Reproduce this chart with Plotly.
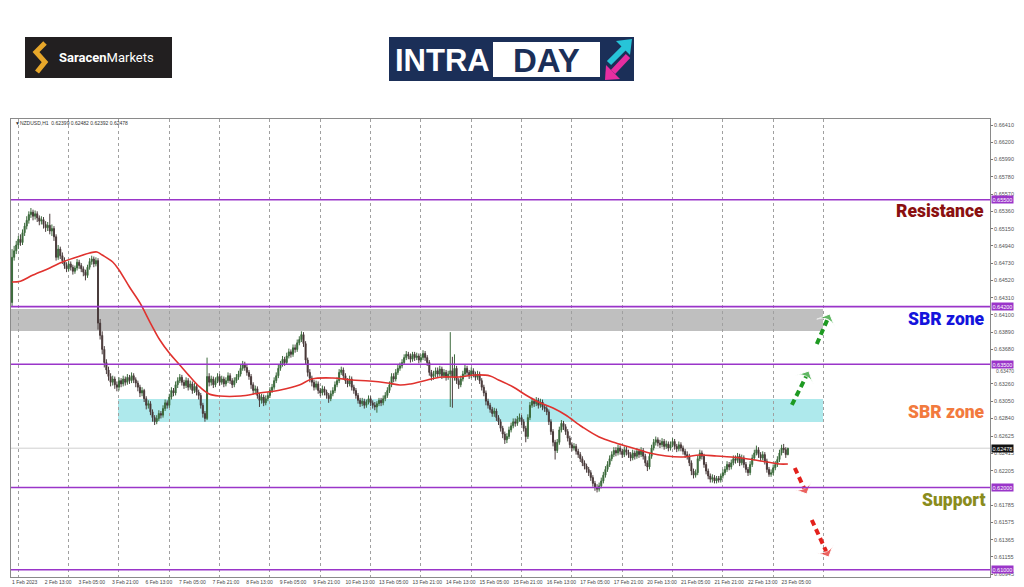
import plotly.graph_objects as go

# ---------------- data ----------------
first_open = 0.6425
closes = [
 0.6480, 0.6488, 0.6495, 0.6502, 0.6498, 0.6510, 0.6518, 0.6525, 0.6532, 0.6535,
 0.6530, 0.6533, 0.6528, 0.6524, 0.6526, 0.6520, 0.6516, 0.6519, 0.6512, 0.6515,
 0.6505, 0.6480, 0.6490, 0.6482, 0.6476, 0.6470, 0.6466, 0.6472, 0.6468, 0.6463,
 0.6467, 0.6474, 0.6470, 0.6466, 0.6462, 0.6458, 0.6468, 0.6475, 0.6478, 0.6472,
 0.6476, 0.6400, 0.6385, 0.6368, 0.6352, 0.6343, 0.6335, 0.6328, 0.6332, 0.6325,
 0.6322, 0.6330, 0.6326, 0.6332, 0.6328, 0.6334, 0.6330, 0.6336, 0.6331, 0.6327,
 0.6322, 0.6315, 0.6318, 0.6308, 0.6300, 0.6302, 0.6292, 0.6285, 0.6280, 0.6284,
 0.6290, 0.6288, 0.6296, 0.6303, 0.6300, 0.6310, 0.6318, 0.6315, 0.6325, 0.6330,
 0.6334, 0.6328, 0.6324, 0.6330, 0.6322, 0.6326, 0.6318, 0.6323, 0.6316, 0.6312,
 0.6300, 0.6290, 0.6284, 0.6335, 0.6328, 0.6332, 0.6325, 0.6330, 0.6335, 0.6328,
 0.6332, 0.6326, 0.6330, 0.6336, 0.6330, 0.6325, 0.6330, 0.6334, 0.6338, 0.6345,
 0.6350, 0.6346, 0.6340, 0.6335, 0.6325, 0.6318, 0.6320, 0.6312, 0.6306, 0.6310,
 0.6303, 0.6308, 0.6312, 0.6318, 0.6322, 0.6330, 0.6336, 0.6345, 0.6350, 0.6356,
 0.6352, 0.6360, 0.6365, 0.6362, 0.6370, 0.6368, 0.6376, 0.6380, 0.6386, 0.6375,
 0.6355, 0.6340, 0.6333, 0.6328, 0.6322, 0.6326, 0.6318, 0.6315, 0.6320, 0.6316,
 0.6312, 0.6308, 0.6314, 0.6318, 0.6325, 0.6330, 0.6340, 0.6343, 0.6336, 0.6330,
 0.6326, 0.6332, 0.6322, 0.6318, 0.6312, 0.6306, 0.6302, 0.6305, 0.6300, 0.6304,
 0.6308, 0.6303, 0.6300, 0.6298, 0.6302, 0.6306, 0.6303, 0.6308, 0.6312, 0.6318,
 0.6325, 0.6335, 0.6332, 0.6340, 0.6345, 0.6348, 0.6352, 0.6358, 0.6362, 0.6360,
 0.6356, 0.6362, 0.6358, 0.6360, 0.6355, 0.6358, 0.6363, 0.6358, 0.6352, 0.6340,
 0.6335, 0.6338, 0.6342, 0.6338, 0.6344, 0.6336, 0.6340, 0.6334, 0.6338, 0.6342,
 0.6335, 0.6345, 0.6330, 0.6325, 0.6332, 0.6338, 0.6345, 0.6340, 0.6336, 0.6342,
 0.6338, 0.6334, 0.6338, 0.6330, 0.6322, 0.6315, 0.6305, 0.6300, 0.6295, 0.6290,
 0.6293, 0.6285, 0.6280, 0.6272, 0.6265, 0.6258, 0.6262, 0.6270, 0.6275, 0.6280,
 0.6278, 0.6283, 0.6285, 0.6280, 0.6272, 0.6262, 0.6285, 0.6300, 0.6305, 0.6302,
 0.6306, 0.6300, 0.6304, 0.6298, 0.6296, 0.6292, 0.6280, 0.6268, 0.6255, 0.6245,
 0.6255, 0.6270, 0.6278, 0.6274, 0.6268, 0.6260, 0.6252, 0.6248, 0.6250, 0.6244,
 0.6240, 0.6235, 0.6230, 0.6226, 0.6222, 0.6218, 0.6212, 0.6205, 0.6200, 0.6198,
 0.6202, 0.6208, 0.6215, 0.6222, 0.6228, 0.6235, 0.6240, 0.6245, 0.6242, 0.6248,
 0.6244, 0.6240, 0.6246, 0.6243, 0.6240, 0.6236, 0.6242, 0.6238, 0.6244, 0.6240,
 0.6245, 0.6238, 0.6230, 0.6225, 0.6238, 0.6248, 0.6255, 0.6258, 0.6254, 0.6252,
 0.6256, 0.6250, 0.6253, 0.6248, 0.6252, 0.6256, 0.6250, 0.6247, 0.6252, 0.6248,
 0.6244, 0.6240, 0.6238, 0.6230, 0.6220, 0.6215, 0.6218, 0.6235, 0.6242, 0.6238,
 0.6228, 0.6220, 0.6214, 0.6210, 0.6212, 0.6208, 0.6211, 0.6209, 0.6214, 0.6218,
 0.6222, 0.6228, 0.6225, 0.6230, 0.6235, 0.6233, 0.6238, 0.6230, 0.6236, 0.6228,
 0.6222, 0.6218, 0.6228, 0.6236, 0.6242, 0.6246, 0.6240, 0.6236, 0.6240, 0.6232,
 0.6222, 0.6216, 0.6218, 0.6224, 0.6228, 0.6234, 0.6242, 0.6248, 0.6246, 0.6240,
 0.62478]

highs = [
 0.6490, 0.6494, 0.6500, 0.6506, 0.6508, 0.6514, 0.6522, 0.6530, 0.6536, 0.6540,
 0.6538, 0.6537, 0.6536, 0.6531, 0.6530, 0.6529, 0.6524, 0.6523, 0.6533, 0.6520,
 0.6518, 0.6508, 0.6495, 0.6493, 0.6486, 0.6480, 0.6474, 0.6476, 0.6475, 0.6471,
 0.6470, 0.6478, 0.6477, 0.6473, 0.6469, 0.6465, 0.6471, 0.6479, 0.6482, 0.6481,
 0.6480, 0.6479, 0.6405, 0.6390, 0.6372, 0.6356, 0.6347, 0.6339, 0.6336, 0.6335,
 0.6329, 0.6334, 0.6333, 0.6336, 0.6335, 0.6338, 0.6337, 0.6340, 0.6339, 0.6334,
 0.6330, 0.6325, 0.6322, 0.6320, 0.6311, 0.6306, 0.6305, 0.6295, 0.6288, 0.6288,
 0.6294, 0.6293, 0.6300, 0.6307, 0.6306, 0.6314, 0.6322, 0.6321, 0.6329, 0.6334,
 0.6338, 0.6337, 0.6331, 0.6334, 0.6333, 0.6330, 0.6329, 0.6327, 0.6326, 0.6319,
 0.6315, 0.6303, 0.6293, 0.6358, 0.6339, 0.6336, 0.6335, 0.6334, 0.6339, 0.6338,
 0.6336, 0.6335, 0.6334, 0.6340, 0.6339, 0.6333, 0.6334, 0.6338, 0.6342, 0.6349,
 0.6354, 0.6353, 0.6349, 0.6343, 0.6338, 0.6328, 0.6324, 0.6323, 0.6315, 0.6314,
 0.6313, 0.6312, 0.6316, 0.6322, 0.6326, 0.6334, 0.6340, 0.6349, 0.6354, 0.6360,
 0.6359, 0.6364, 0.6369, 0.6368, 0.6374, 0.6374, 0.6380, 0.6384, 0.6390, 0.6389,
 0.6378, 0.6358, 0.6344, 0.6336, 0.6331, 0.6330, 0.6329, 0.6321, 0.6324, 0.6323,
 0.6319, 0.6315, 0.6318, 0.6322, 0.6329, 0.6334, 0.6344, 0.6347, 0.6346, 0.6339,
 0.6333, 0.6336, 0.6335, 0.6325, 0.6321, 0.6315, 0.6309, 0.6309, 0.6308, 0.6307,
 0.6312, 0.6311, 0.6306, 0.6304, 0.6305, 0.6309, 0.6309, 0.6312, 0.6316, 0.6322,
 0.6329, 0.6339, 0.6339, 0.6344, 0.6349, 0.6352, 0.6356, 0.6362, 0.6366, 0.6365,
 0.6363, 0.6365, 0.6365, 0.6364, 0.6363, 0.6362, 0.6367, 0.6366, 0.6361, 0.6355,
 0.6343, 0.6342, 0.6346, 0.6346, 0.6348, 0.6347, 0.6344, 0.6343, 0.6342, 0.6389,
 0.6359, 0.6362, 0.6348, 0.6333, 0.6336, 0.6342, 0.6350, 0.6348, 0.6343, 0.6346,
 0.6345, 0.6341, 0.6342, 0.6341, 0.6333, 0.6325, 0.6318, 0.6308, 0.6303, 0.6298,
 0.6297, 0.6296, 0.6288, 0.6283, 0.6275, 0.6268, 0.6266, 0.6274, 0.6279, 0.6284,
 0.6284, 0.6287, 0.6290, 0.6288, 0.6283, 0.6275, 0.6289, 0.6304, 0.6309, 0.6308,
 0.6310, 0.6309, 0.6308, 0.6307, 0.6301, 0.6299, 0.6295, 0.6283, 0.6271, 0.6258,
 0.6259, 0.6274, 0.6282, 0.6281, 0.6277, 0.6271, 0.6263, 0.6255, 0.6254, 0.6253,
 0.6247, 0.6243, 0.6238, 0.6233, 0.6229, 0.6225, 0.6221, 0.6215, 0.6208, 0.6204,
 0.6206, 0.6212, 0.6219, 0.6226, 0.6232, 0.6239, 0.6244, 0.6249, 0.6249, 0.6252,
 0.6251, 0.6247, 0.6250, 0.6250, 0.6246, 0.6243, 0.6246, 0.6245, 0.6248, 0.6247,
 0.6249, 0.6248, 0.6241, 0.6233, 0.6242, 0.6252, 0.6259, 0.6262, 0.6261, 0.6258,
 0.6260, 0.6259, 0.6257, 0.6256, 0.6256, 0.6260, 0.6259, 0.6253, 0.6256, 0.6255,
 0.6251, 0.6247, 0.6244, 0.6241, 0.6233, 0.6223, 0.6222, 0.6239, 0.6246, 0.6245,
 0.6241, 0.6231, 0.6223, 0.6217, 0.6216, 0.6215, 0.6214, 0.6214, 0.6217, 0.6222,
 0.6226, 0.6232, 0.6231, 0.6234, 0.6239, 0.6239, 0.6242, 0.6241, 0.6240, 0.6239,
 0.6231, 0.6225, 0.6232, 0.6240, 0.6246, 0.6251, 0.6249, 0.6243, 0.6244, 0.6243,
 0.6235, 0.6225, 0.6222, 0.6228, 0.6232, 0.6238, 0.6246, 0.6252, 0.6253, 0.6249,
 0.62482]

lows = [
 0.6420, 0.6476, 0.6484, 0.6490, 0.6494, 0.6495, 0.6506, 0.6514, 0.6521, 0.6528,
 0.6525, 0.6526, 0.6523, 0.6519, 0.6520, 0.6515, 0.6511, 0.6512, 0.6508, 0.6506,
 0.6500, 0.6476, 0.6477, 0.6478, 0.6472, 0.6466, 0.6462, 0.6463, 0.6464, 0.6459,
 0.6460, 0.6464, 0.6466, 0.6462, 0.6457, 0.6452, 0.6455, 0.6465, 0.6471, 0.6468,
 0.6469, 0.6392, 0.6380, 0.6362, 0.6346, 0.6338, 0.6330, 0.6323, 0.6324, 0.6320,
 0.6317, 0.6318, 0.6322, 0.6323, 0.6324, 0.6325, 0.6326, 0.6327, 0.6327, 0.6322,
 0.6317, 0.6310, 0.6311, 0.6304, 0.6295, 0.6296, 0.6288, 0.6280, 0.6276, 0.6277,
 0.6281, 0.6284, 0.6285, 0.6293, 0.6296, 0.6297, 0.6307, 0.6311, 0.6312, 0.6321,
 0.6327, 0.6324, 0.6320, 0.6321, 0.6318, 0.6319, 0.6314, 0.6315, 0.6312, 0.6307,
 0.6296, 0.6285, 0.6280, 0.6282, 0.6323, 0.6324, 0.6321, 0.6322, 0.6327, 0.6324,
 0.6325, 0.6322, 0.6323, 0.6327, 0.6326, 0.6321, 0.6322, 0.6327, 0.6331, 0.6335,
 0.6342, 0.6342, 0.6336, 0.6331, 0.6320, 0.6313, 0.6314, 0.6308, 0.6298, 0.6302,
 0.6299, 0.6300, 0.6305, 0.6309, 0.6315, 0.6319, 0.6327, 0.6333, 0.6342, 0.6347,
 0.6348, 0.6349, 0.6357, 0.6358, 0.6359, 0.6364, 0.6365, 0.6373, 0.6377, 0.6371,
 0.6350, 0.6335, 0.6328, 0.6323, 0.6318, 0.6319, 0.6314, 0.6311, 0.6312, 0.6312,
 0.6308, 0.6303, 0.6305, 0.6311, 0.6315, 0.6322, 0.6327, 0.6337, 0.6332, 0.6326,
 0.6322, 0.6323, 0.6318, 0.6314, 0.6308, 0.6302, 0.6298, 0.6299, 0.6296, 0.6297,
 0.6301, 0.6299, 0.6296, 0.6294, 0.6291, 0.6299, 0.6299, 0.6300, 0.6305, 0.6309,
 0.6315, 0.6322, 0.6328, 0.6329, 0.6337, 0.6342, 0.6345, 0.6349, 0.6355, 0.6356,
 0.6352, 0.6353, 0.6354, 0.6355, 0.6351, 0.6352, 0.6355, 0.6354, 0.6348, 0.6336,
 0.6330, 0.6331, 0.6334, 0.6334, 0.6335, 0.6332, 0.6333, 0.6330, 0.6331, 0.6298,
 0.6297, 0.6330, 0.6326, 0.6320, 0.6322, 0.6329, 0.6335, 0.6336, 0.6332, 0.6333,
 0.6334, 0.6330, 0.6331, 0.6326, 0.6318, 0.6311, 0.6300, 0.6296, 0.6291, 0.6286,
 0.6286, 0.6281, 0.6276, 0.6268, 0.6260, 0.6253, 0.6254, 0.6259, 0.6267, 0.6272,
 0.6274, 0.6275, 0.6280, 0.6276, 0.6268, 0.6255, 0.6259, 0.6282, 0.6297, 0.6298,
 0.6299, 0.6296, 0.6297, 0.6294, 0.6292, 0.6288, 0.6276, 0.6264, 0.6250, 0.6234,
 0.6242, 0.6252, 0.6267, 0.6270, 0.6264, 0.6256, 0.6248, 0.6244, 0.6245, 0.6240,
 0.6236, 0.6231, 0.6226, 0.6222, 0.6218, 0.6214, 0.6208, 0.6201, 0.6196, 0.6194,
 0.6195, 0.6199, 0.6205, 0.6212, 0.6219, 0.6225, 0.6232, 0.6237, 0.6238, 0.6239,
 0.6240, 0.6236, 0.6237, 0.6239, 0.6236, 0.6232, 0.6233, 0.6234, 0.6235, 0.6236,
 0.6237, 0.6234, 0.6226, 0.6220, 0.6222, 0.6235, 0.6245, 0.6251, 0.6250, 0.6248,
 0.6249, 0.6246, 0.6247, 0.6244, 0.6245, 0.6249, 0.6246, 0.6243, 0.6244, 0.6244,
 0.6240, 0.6236, 0.6234, 0.6226, 0.6215, 0.6211, 0.6212, 0.6215, 0.6232, 0.6234,
 0.6224, 0.6216, 0.6210, 0.6206, 0.6206, 0.6205, 0.6205, 0.6206, 0.6206, 0.6211,
 0.6215, 0.6219, 0.6221, 0.6222, 0.6227, 0.6229, 0.6230, 0.6226, 0.6227, 0.6224,
 0.6218, 0.6214, 0.6215, 0.6225, 0.6233, 0.6239, 0.6236, 0.6232, 0.6233, 0.6228,
 0.6218, 0.6213, 0.6213, 0.6215, 0.6221, 0.6225, 0.6231, 0.6239, 0.6242, 0.6236,
 0.62392]

opens = [first_open] + closes[:-1]
bars = list(range(len(closes)))

# moving average, read at sample bars
ma_bar = [0, 4, 10, 18, 24, 31, 37, 40.5, 43, 48, 51, 56, 61, 66, 70.5, 75, 80, 85,
          89.5, 94, 99, 109, 118, 128, 137, 143, 153, 162, 170.5, 179, 185, 190,
          198, 205, 213, 221, 228, 232, 239, 245, 251, 258, 264, 272, 280, 288, 296,
          304, 312, 320, 328, 336, 343, 351, 360, 366, 370]
ma_val = [0.64500, 0.64510, 0.64585, 0.64670, 0.64743, 0.64804, 0.64853, 0.64865,
          0.64828, 0.64743, 0.64646, 0.64439, 0.64245, 0.64001, 0.63794, 0.63636,
          0.63490, 0.63344, 0.63223, 0.63138, 0.63113, 0.63113, 0.63150, 0.63186,
          0.63247, 0.63320, 0.63332, 0.63308, 0.63296, 0.63272, 0.63247, 0.63260,
          0.63308, 0.63344, 0.63344, 0.63369, 0.63357, 0.63308, 0.63223, 0.63125,
          0.63040, 0.62967, 0.62882, 0.62736, 0.62614, 0.62541, 0.62481, 0.62420,
          0.62383, 0.62371, 0.62395, 0.62383, 0.62371, 0.62347, 0.62310, 0.62286,
          0.62286]

x_labels = ["1 Feb 2023", "2 Feb 13:00", "3 Feb 05:00", "3 Feb 21:00", "6 Feb 13:00",
            "7 Feb 05:00", "7 Feb 21:00", "8 Feb 13:00", "9 Feb 05:00", "9 Feb 21:00",
            "10 Feb 13:00", "13 Feb 05:00", "13 Feb 21:00", "14 Feb 13:00", "15 Feb 05:00",
            "15 Feb 21:00", "16 Feb 13:00", "17 Feb 05:00", "17 Feb 21:00", "20 Feb 13:00",
            "21 Feb 05:00", "21 Feb 21:00", "22 Feb 13:00", "23 Feb 05:00"]
y_ticks = [0.66410, 0.66200, 0.65990, 0.65780, 0.65570, 0.65360, 0.65150, 0.64940,
           0.64730, 0.64520, 0.64310, 0.64100, 0.63890, 0.63680, 0.63260,
           0.63050, 0.62840, 0.62625, 0.62415, 0.62205, 0.61785, 0.61575, 0.61365,
           0.61155, 0.60945]
y_tick_under_box = 0.63470   # partly hidden under the 0.63500 box in the picture
levels = [0.65500, 0.64200, 0.63500, 0.62000, 0.61000]
current_price = 0.62478
gray_zone = [0.63904, 0.64172]
cyan_zone = [0.62797, 0.63077]

# annotation arrows: (bar_start, price_start, bar_end, price_end, colour)
arrows = [
    (371.9, 0.63004, 380.0, 0.63417, "#1e9a22"),
    (383.8, 0.63746, 390.0, 0.64111, "#1e9a22"),
    (373.3, 0.62237, 379.0, 0.61921, "#e3211c"),
    (381.4, 0.61605, 389.5, 0.61154, "#e3211c"),
]

# ---------------- geometry helpers ----------------
W, H = 1024, 587
L, R, T, B = 11, 990, 119, 577


def px(x):
    return (x - L) / (R - L)


def py(y):
    return (B - y) / (B - T)


def path(points, close=False):
    s = "M " + " L ".join(f"{px(x):.5f},{py(y):.5f}" for x, y in points)
    return s + (" Z" if close else "")


fig = go.Figure()

fig.add_trace(go.Candlestick(
    x=bars, open=opens, high=highs, low=lows, close=closes,
    increasing=dict(line=dict(color="#3c6a3c", width=1), fillcolor="#2a6630"),
    decreasing=dict(line=dict(color="#4a3c3c", width=1), fillcolor="#3a1c1c"),
    whiskerwidth=0, hoverinfo="skip", showlegend=False,
))

fig.add_trace(go.Scatter(
    x=ma_bar, y=ma_val, mode="lines", line=dict(color="#e0322e", width=1.6, shape="spline"),
    hoverinfo="skip", showlegend=False,
))

for x0, y0, x1, y1, col in arrows:
    fig.add_trace(go.Scatter(
        x=[x0, x1], y=[y0, y1], mode="lines+markers",
        line=dict(color=col, width=4, dash="6px,4px"),
        marker=dict(symbol="arrow-wide", size=[0, 14], angleref="previous", color=col),
        hoverinfo="skip", showlegend=False,
    ))

shapes = []
# zones
shapes.append(dict(type="rect", xref="paper", yref="y", x0=0, x1=px(823),
                   y0=gray_zone[0], y1=gray_zone[1], fillcolor="#bfbfbf",
                   line=dict(width=0), layer="below"))
shapes.append(dict(type="rect", xref="paper", yref="y", x0=px(118), x1=px(823),
                   y0=cyan_zone[0], y1=cyan_zone[1], fillcolor="#aee9ec",
                   line=dict(width=0), layer="below"))
# current price line
shapes.append(dict(type="line", xref="paper", yref="y", x0=0, x1=1,
                   y0=current_price, y1=current_price,
                   line=dict(color="#cfcfcf", width=1), layer="below"))
# level lines
for lv in levels:
    shapes.append(dict(type="line", xref="paper", yref="y", x0=0, x1=1, y0=lv, y1=lv,
                       line=dict(color="#9a35c9", width=1.6)))

# ---- logos ----
shapes.append(dict(type="rect", xref="paper", yref="paper", x0=px(25), x1=px(172),
                   y0=py(78), y1=py(37), fillcolor="#221f20", line=dict(width=0)))
shapes.append(dict(type="path", xref="paper", yref="paper",
                   path=path([(45, 43), (36, 52), (45, 62), (37, 72)]),
                   line=dict(color="#e7a72a", width=5)))
shapes.append(dict(type="rect", xref="paper", yref="paper", x0=px(389), x1=px(634),
                   y0=py(81), y1=py(37), fillcolor="#1b2f58", line=dict(width=0)))
shapes.append(dict(type="rect", xref="paper", yref="paper", x0=px(493), x1=px(600),
                   y0=py(77), y1=py(42), fillcolor="#ffffff", line=dict(width=0)))
shapes.append(dict(type="path", xref="paper", yref="paper",
                   path=path([(609, 63), (625, 47)]), line=dict(color="#27c4d8", width=6)))
shapes.append(dict(type="path", xref="paper", yref="paper",
                   path=path([(632, 39), (616, 41), (630, 55)], close=True),
                   fillcolor="#27c4d8", line=dict(width=0)))
shapes.append(dict(type="path", xref="paper", yref="paper",
                   path=path([(628, 56), (613, 72)]), line=dict(color="#e62ea0", width=6)))
shapes.append(dict(type="path", xref="paper", yref="paper",
                   path=path([(605, 80), (606, 65), (620, 79)], close=True),
                   fillcolor="#e62ea0", line=dict(width=0)))

annotations = []
annotations.append(dict(xref="paper", yref="paper", x=px(57), y=py(57), xanchor="left",
                        yanchor="middle", showarrow=False,
                        text="<b>Saracen</b>Markets",
                        font=dict(family="Roboto", size=13, color="#ffffff")))
annotations.append(dict(xref="paper", yref="paper", x=px(442), y=py(60), xanchor="center",
                        yanchor="middle", showarrow=False, text="<b>INTRA</b>",
                        font=dict(family="Liberation Sans", size=31, color="#ffffff")))
annotations.append(dict(xref="paper", yref="paper", x=px(546), y=py(60), xanchor="center",
                        yanchor="middle", showarrow=False, text="<b>DAY</b>",
                        font=dict(family="Liberation Sans", size=33, color="#1b2f58")))

# chart header
annotations.append(dict(xref="paper", yref="paper", x=px(13), y=py(123), xanchor="left",
                        yanchor="middle", showarrow=False,
                        text="▼NZDUSD,H1  0.62399 0.62482 0.62392 0.62478",
                        font=dict(family="Liberation Sans", size=5, color="#333333")))

# tick label that sits just under a price box
annotations.append(dict(xref="paper", yref="y", x=1, y=y_tick_under_box, xanchor="left",
                        yanchor="middle", xshift=4, yshift=-4, showarrow=False,
                        text=f"{y_tick_under_box:.5f}",
                        font=dict(family="Liberation Sans", size=5, color="#555555")))

# price boxes
for lv in levels:
    annotations.append(dict(xref="paper", yref="y", x=1, y=lv, xanchor="left", yanchor="middle",
                            xshift=1, showarrow=False, text=f"{lv:.5f}",
                            font=dict(family="Liberation Sans", size=5.5, color="#ffffff"),
                            bgcolor="#9a35c9", borderpad=0.5))
annotations.append(dict(xref="paper", yref="y", x=1, y=current_price, xanchor="left",
                        yanchor="middle", xshift=1, showarrow=False, text=f"{current_price:.5f}",
                        font=dict(family="Liberation Sans", size=5.5, color="#ffffff"),
                        bgcolor="#111111", borderpad=0.5))

# zone labels
labels = [("Resistance", 211, "#8a1010", 986),
          ("SBR zone", 319, "#1414dc", 987),
          ("SBR zone", 412, "#f27a3e", 987),
          ("Support", 500, "#8a8c1c", 987)]
for txt, yy, col, xx in labels:
    annotations.append(dict(xref="paper", yref="paper", x=px(xx), y=py(yy), xanchor="right",
                            yanchor="middle", showarrow=False, text=txt,
                            font=dict(family="Roboto", size=17.5, color=col, weight=900)))

fig.update_layout(
    width=W, height=H,
    margin=dict(l=L, r=W - R, t=T, b=H - B, pad=0, autoexpand=False),
    paper_bgcolor="#ffffff", plot_bgcolor="#ffffff",
    showlegend=False,
    shapes=shapes, annotations=annotations,
    xaxis=dict(
        range=[-0.5, 466.4], rangeslider=dict(visible=False), automargin=False,
        tickmode="array", tickvals=[16 * k + 6 for k in range(len(x_labels))],
        ticktext=x_labels, ticks="", showgrid=False, zeroline=False,
        tickfont=dict(family="Liberation Sans", size=5, color="#444444"),
        showline=True, mirror=True, linecolor="#8a8a8a", linewidth=1,
        minor=dict(tickvals=list(range(3, 390, 24)), showgrid=True, gridcolor="#a0a0a0",
                   griddash="dot", gridwidth=1, ticks=""),
    ),
    yaxis=dict(
        range=[0.60911, 0.66483], side="right", automargin=False,
        tickmode="array", tickvals=y_ticks,
        ticktext=[f"{v:.5f}" for v in y_ticks], showgrid=False, zeroline=False,
        ticks="outside", ticklen=2, tickcolor="#777777",
        tickfont=dict(family="Liberation Sans", size=5.5, color="#555555"),
        showline=True, mirror=True, linecolor="#8a8a8a", linewidth=1,
    ),
)

fig.write_html("out.html", config={"displayModeBar": False},
               post_script="document.body.style.margin='0';document.body.style.overflow='hidden';")
